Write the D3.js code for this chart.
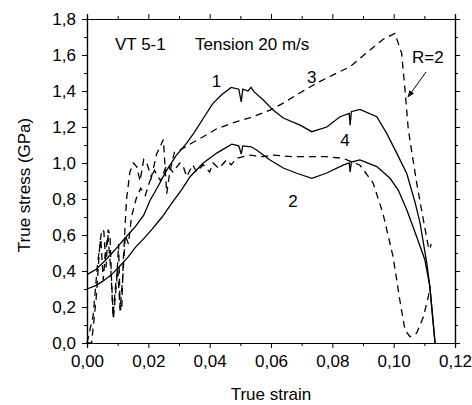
<!DOCTYPE html>
<html>
<head>
<meta charset="utf-8">
<script src="https://cdn.jsdelivr.net/npm/d3@7"></script>
<style>
  body { margin: 0; background: #fff; }
  text { font-family: "Liberation Sans", Arial, sans-serif; fill: #000; }
</style>
</head>
<body>
<div class="chart"></div>
<script>
// data: [true strain, true stress (GPa)]
var curve1 = [[0.000,0.380],[0.003,0.410],[0.006,0.460],[0.009,0.515],[0.012,0.575],[0.0157,0.645],
  [0.0185,0.710],[0.0205,0.790],[0.023,0.865],[0.026,0.960],[0.029,1.040],[0.0325,1.110],[0.035,1.170],
  [0.038,1.250],[0.041,1.330],[0.044,1.380],[0.047,1.420],[0.0495,1.410],[0.0503,1.340],[0.0508,1.410],
  [0.0525,1.400],[0.0535,1.420],[0.0545,1.395],[0.0575,1.350],[0.0607,1.294],[0.064,1.250],[0.0695,1.210],
  [0.0733,1.174],[0.0782,1.200],[0.0825,1.257],[0.0855,1.275],[0.0858,1.210],[0.0862,1.285],[0.089,1.298],
  [0.0945,1.257],[0.0977,1.166],[0.101,1.055],[0.1043,0.940],[0.107,0.780],[0.1086,0.667],[0.1108,0.444],
  [0.1118,0.313],[0.1135,0.000]];

var curve2 = [[0.000,0.300],[0.003,0.320],[0.0053,0.345],[0.008,0.380],[0.0105,0.424],[0.0135,0.480],
  [0.0157,0.530],[0.0185,0.580],[0.0211,0.630],[0.0245,0.700],[0.0276,0.776],[0.031,0.855],[0.0336,0.924],
  [0.0379,1.000],[0.0423,1.055],[0.0472,1.105],[0.0495,1.095],[0.0503,1.050],[0.0508,1.095],[0.0535,1.090],
  [0.0553,1.072],[0.0597,1.017],[0.064,0.972],[0.0684,0.943],[0.0733,0.915],[0.078,0.943],[0.0835,0.988],
  [0.0855,1.000],[0.0858,0.950],[0.0862,1.005],[0.089,1.017],[0.0945,0.980],[0.0988,0.915],[0.1015,0.850],
  [0.1043,0.739],[0.1075,0.590],[0.1102,0.461],[0.1118,0.313],[0.1135,0.000]];

var curve3 = [[0.000,0.000],[0.0015,0.000],[0.003,0.250],[0.0042,0.550],[0.0048,0.630],[0.0055,0.620],
  [0.0062,0.420],[0.0069,0.630],[0.0075,0.600],[0.008,0.350],[0.0086,0.130],[0.0097,0.350],[0.0103,0.550],
  [0.0108,0.200],[0.0113,0.180],[0.0118,0.450],[0.0129,0.800],[0.014,0.950],[0.0151,1.000],[0.0162,0.980],
  [0.0173,0.900],[0.0185,1.020],[0.0195,1.000],[0.021,0.920],[0.0227,1.050],[0.0249,1.130],[0.026,0.830],
  [0.027,0.950],[0.0285,1.060],[0.0303,1.072],[0.0341,1.110],[0.0379,1.146],[0.0423,1.190],[0.0488,1.230],
  [0.053,1.250],[0.0597,1.294],[0.064,1.333],[0.0695,1.390],[0.0749,1.444],[0.0803,1.490],[0.0858,1.535],
  [0.0923,1.628],[0.0968,1.690],[0.1004,1.720],[0.1026,1.610],[0.1037,1.406],[0.1047,1.200],[0.1053,1.128],
  [0.1075,0.889],[0.1097,0.683],[0.1113,0.535],[0.1118,0.520],[0.1122,0.550]];

var curve4 = [[0.000,0.000],[0.002,0.150],[0.0035,0.450],[0.0045,0.580],[0.0053,0.350],[0.006,0.500],
  [0.0068,0.600],[0.0078,0.400],[0.0085,0.150],[0.0092,0.300],[0.010,0.420],[0.0108,0.180],[0.0118,0.400],
  [0.0125,0.600],[0.0135,0.550],[0.0145,0.700],[0.016,0.800],[0.0175,0.860],[0.019,0.820],[0.0205,0.900],
  [0.022,0.960],[0.024,0.900],[0.026,0.990],[0.028,0.950],[0.0303,1.000],[0.0314,0.980],[0.0325,0.924],
  [0.0345,0.990],[0.0357,0.950],[0.0379,0.990],[0.040,0.950],[0.0411,1.000],[0.043,0.970],[0.0455,1.017],
  [0.047,0.990],[0.0488,1.026],[0.053,1.044],[0.0575,1.035],[0.0607,1.044],[0.067,1.035],[0.078,1.035],
  [0.0835,1.026],[0.089,0.988],[0.0933,0.889],[0.0965,0.720],[0.0998,0.480],[0.102,0.239],[0.1037,0.072],
  [0.1053,0.035],[0.1075,0.055],[0.1097,0.146],[0.1113,0.257],[0.1118,0.313]];

var xTickValues = [0, 0.02, 0.04, 0.06, 0.08, 0.10, 0.12];
var xMinorValues = [0.01, 0.03, 0.05, 0.07, 0.09, 0.11];
var yTickValues = [0, 0.2, 0.4, 0.6, 0.8, 1.0, 1.2, 1.4, 1.6, 1.8];
var yMinorValues = [0.1, 0.3, 0.5, 0.7, 0.9, 1.1, 1.3, 1.5, 1.7];

var curveLabels = [{text: "1", x: 0.0422, y: 1.42}, {text: "2", x: 0.0672, y: 0.757},
  {text: "3", x: 0.0733, y: 1.444}, {text: "4", x: 0.0841, y: 1.094}];

var svgWidth = 472;
var svgHeight = 405;

var margin = {
    top: 19,
    right: 17,
    bottom: 62,
    left: 87
};

var width = svgWidth - margin.left - margin.right;
var height = svgHeight - margin.top - margin.bottom;

var svg = d3.select(".chart")
    .append("svg")
    .attr("width", svgWidth)
    .attr("height", svgHeight);

var chartGroup = svg.append("g")
    .attr("transform", `translate(${margin.left}, ${margin.top})`);

var xScale = d3.scaleLinear().domain([0, 0.12]).range([0, width]);
var yScale = d3.scaleLinear().domain([0, 1.8]).range([height, 0]);

var comma = d3.formatLocale({decimal: ",", thousands: ".", grouping: [3], currency: ["", ""]});

function styleAxis(g) {
    g.select(".domain").attr("stroke", "#000").attr("stroke-width", 1.2);
    g.selectAll(".tick line").attr("stroke", "#000").attr("stroke-width", 1);
    g.selectAll("text").style("font-size", "17px").attr("fill", "#000");
}

// major ticks with labels
chartGroup.append("g")
    .attr("transform", `translate(0, ${height})`)
    .call(d3.axisBottom(xScale).tickValues(xTickValues).tickSize(5).tickPadding(7)
        .tickFormat(comma.format(".2f")))
    .call(styleAxis);

chartGroup.append("g")
    .call(d3.axisLeft(yScale).tickValues(yTickValues).tickSize(5).tickPadding(6)
        .tickFormat(comma.format(".1f")))
    .call(styleAxis);

chartGroup.append("g")
    .call(d3.axisTop(xScale).tickValues(xTickValues).tickSize(5).tickFormat(""))
    .call(styleAxis);

chartGroup.append("g")
    .attr("transform", `translate(${width}, 0)`)
    .call(d3.axisRight(yScale).tickValues(yTickValues).tickSize(5).tickFormat(""))
    .call(styleAxis);

// minor ticks
chartGroup.append("g")
    .attr("transform", `translate(0, ${height})`)
    .call(d3.axisBottom(xScale).tickValues(xMinorValues).tickSize(3).tickFormat(""))
    .call(styleAxis);
chartGroup.append("g")
    .call(d3.axisTop(xScale).tickValues(xMinorValues).tickSize(3).tickFormat(""))
    .call(styleAxis);
chartGroup.append("g")
    .call(d3.axisLeft(yScale).tickValues(yMinorValues).tickSize(3).tickFormat(""))
    .call(styleAxis);
chartGroup.append("g")
    .attr("transform", `translate(${width}, 0)`)
    .call(d3.axisRight(yScale).tickValues(yMinorValues).tickSize(3).tickFormat(""))
    .call(styleAxis);

var line = d3.line()
    .x(d => xScale(d[0]))
    .y(d => yScale(d[1]));

var series = [
    {data: curve1, dash: null},
    {data: curve2, dash: null},
    {data: curve3, dash: "7,5"},
    {data: curve4, dash: "7,5"}
];

chartGroup.selectAll(".curve")
    .data(series)
    .enter()
    .append("path")
    .attr("class", "curve")
    .attr("d", d => line(d.data))
    .attr("fill", "none")
    .attr("stroke", "#000")
    .attr("stroke-width", 1.3)
    .attr("stroke-dasharray", d => d.dash);

chartGroup.selectAll(".clabel")
    .data(curveLabels)
    .enter()
    .append("text")
    .attr("class", "clabel")
    .attr("x", d => xScale(d.x))
    .attr("y", d => yScale(d.y))
    .attr("text-anchor", "middle")
    .style("font-size", "17px")
    .text(d => d.text);

// annotations
chartGroup.append("text")
    .attr("x", 28).attr("y", 31)
    .style("font-size", "17px")
    .text("VT 5-1");

chartGroup.append("text")
    .attr("x", 108).attr("y", 31)
    .style("font-size", "17px")
    .text("Tension 20 m/s");

chartGroup.append("text")
    .attr("x", 325).attr("y", 44)
    .style("font-size", "17px")
    .text("R=2");

svg.append("defs").append("marker")
    .attr("id", "arrow")
    .attr("viewBox", "0 0 10 10")
    .attr("refX", 9).attr("refY", 5)
    .attr("markerWidth", 7).attr("markerHeight", 7)
    .attr("orient", "auto")
    .append("path")
    .attr("d", "M0,1 L10,5 L0,9 z")
    .attr("fill", "#000");

chartGroup.append("line")
    .attr("x1", 339).attr("y1", 53)
    .attr("x2", 321).attr("y2", 78)
    .attr("stroke", "#000")
    .attr("stroke-width", 1)
    .attr("marker-end", "url(#arrow)");

// axis titles
svg.append("text")
    .attr("x", margin.left + width / 2)
    .attr("y", 400)
    .attr("text-anchor", "middle")
    .style("font-size", "17px")
    .text("True strain");

svg.append("text")
    .attr("transform", "translate(30, 185) rotate(-90)")
    .attr("text-anchor", "middle")
    .style("font-size", "17px")
    .text("True stress (GPa)");
</script>
</body>
</html>
